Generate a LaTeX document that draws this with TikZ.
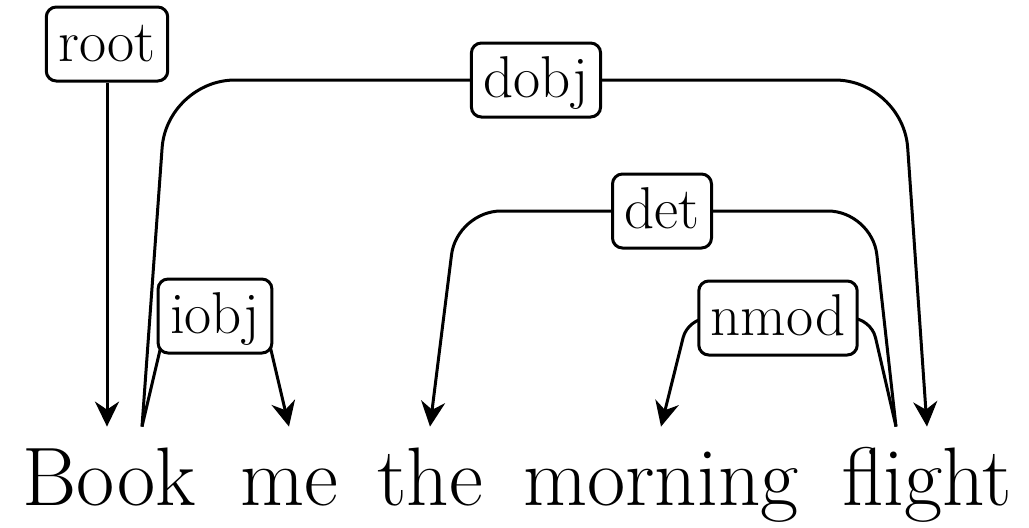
\documentclass[tikz,border=0pt]{standalone}
\usetikzlibrary{arrows.meta,backgrounds}
\tikzset{
  word/.style={anchor=base,inner sep=0pt,text height=39pt,font=\fontsize{41.5}{48}\selectfont},
  deplabel/.style={draw,fill=white,rounded corners=5pt,line width=1.5pt,inner xsep=6pt,inner ysep=3.5pt,
    text height=23.5pt,text depth=6.5pt,font=\fontsize{29.5}{34}\selectfont},
  dep/.style={line width=1.5pt,-{Stealth[length=12.5pt,width=12pt,inset=4pt]}}
}
\begin{document}
\begin{tikzpicture}[x=0.5pt,y=-0.5pt]
\useasboundingbox (0,0) rectangle (1029,527);
% words
\node [word] (Book) at (109,505) {Book};
\node [word] (me) at (289,505) {me};
\node [word] (the) at (430,505) {the};
\node [word] (morning) at (661,505) {morning};
\node [word] (flight) at (927,505) {flight};
% labels
\node [deplabel] (root) at (107,44) {root};
\node [deplabel] (dobj) at (536,80) {dobj};
\node [deplabel] (det) at (662,211) {det};
\node [deplabel] (iobj) at (215,316) {iobj};
\node [deplabel] (nmod) at (778,318) {nmod};
% arcs
\begin{scope}[on background layer]
\draw [dep] (root) -- (root |- Book.north);
\draw [dep,rounded corners=34pt] ([xshift=16.5pt]Book.north) -- (167,80) -- (dobj.center) -- (903,80) -- (flight.north);
\draw [dep,rounded corners=10pt] ([xshift=16.5pt]Book.north) -- (168,316) -- (iobj.center) -- (263,316) -- (me.north);
\draw [dep,rounded corners=22pt] ([xshift=-15.5pt]flight.north) -- (872,211) -- (det.center) -- (457,211) -- (the.north);
\draw [dep,rounded corners=10pt] ([xshift=-15.5pt]flight.north) -- (871,318) -- (nmod.center) -- (688,318) -- (morning.north);
\end{scope}
\end{tikzpicture}
\end{document}
